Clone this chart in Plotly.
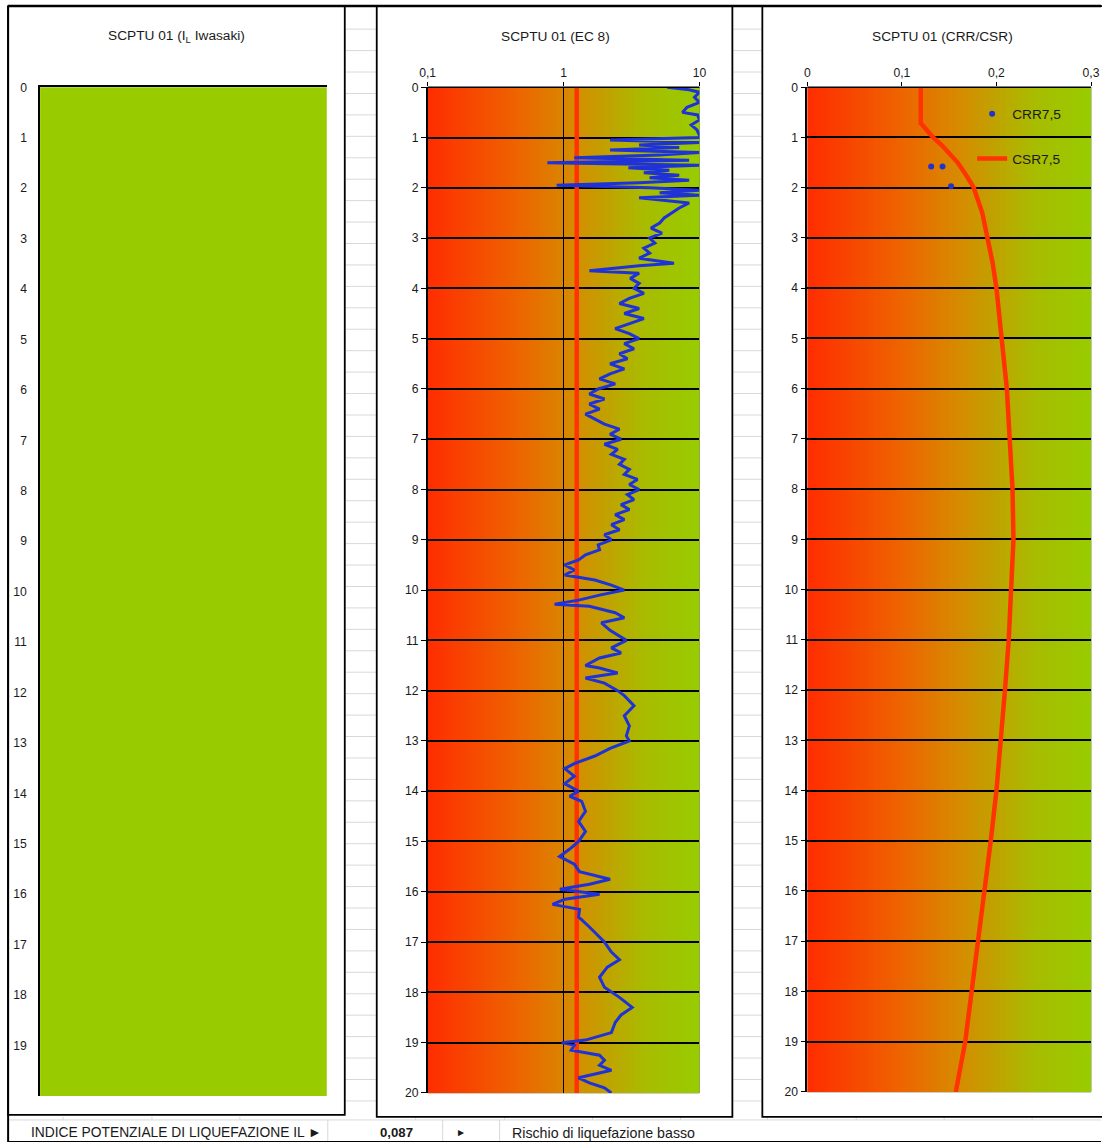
import plotly.graph_objects as go

# Observed capture: the page (with its 8px body margin) is captured on a
# 1118x1158 area and reduced to 1102x1142, so positions are given in window
# pixels of the final picture and converted here.
WIN_W, WIN_H = 1102, 1142
MARGIN = 8
SX = WIN_W / (WIN_W + 2 * MARGIN)
SY = WIN_H / (WIN_H + 2 * MARGIN)
FW = WIN_W + MARGIN
FH = WIN_H + MARGIN


def px(x):
    return (x / SX - MARGIN) / FW


def py(y):
    return 1 - (y / SY - MARGIN) / FH


def fs_(s):
    return round(s / SX, 2)


# ---------------- data ----------------
depth_ticks_p1 = list(range(0, 20))
depth_ticks = list(range(0, 21))

fs_depth = [0.00, 0.05, 0.10, 0.20, 0.30, 0.40, 0.50, 0.55, 0.65, 0.75, 0.85, 0.95,
            1.00, 1.05, 1.10, 1.15, 1.20, 1.25, 1.30, 1.35, 1.40, 1.45, 1.50, 1.55,
            1.60, 1.65, 1.70, 1.75, 1.80, 1.85, 1.90, 1.95, 2.00, 2.05, 2.10, 2.15,
            2.20, 2.30, 2.40, 2.50, 2.60, 2.70, 2.80, 2.90, 3.00, 3.10, 3.20, 3.30,
            3.40, 3.50, 3.55, 3.65, 3.70, 3.80, 3.90, 4.00, 4.10, 4.20, 4.30, 4.40,
            4.50, 4.60, 4.70, 4.80, 4.90, 5.00, 5.10, 5.20, 5.30, 5.40, 5.50, 5.60,
            5.70, 5.80, 5.90, 6.00, 6.10, 6.20, 6.30, 6.40, 6.50, 6.60, 6.70, 6.80,
            6.90, 7.00, 7.10, 7.20, 7.30, 7.40, 7.50, 7.60, 7.70, 7.80, 7.90, 8.00,
            8.10, 8.20, 8.30, 8.40, 8.50, 8.60, 8.70, 8.80, 8.90, 9.00, 9.10, 9.20,
            9.30, 9.40, 9.50, 9.60, 9.70, 9.80, 9.90, 10.00, 10.10, 10.20, 10.28, 10.32,
            10.45, 10.55, 10.65, 10.80, 11.00, 11.15, 11.25, 11.35, 11.50, 11.55, 11.65, 11.75,
            11.85, 12.00, 12.10, 12.30, 12.50, 12.70, 12.90, 13.00, 13.15, 13.30, 13.45, 13.55,
            13.70, 13.85, 14.00, 14.10, 14.20, 14.40, 14.60, 14.80, 15.00, 15.15, 15.30, 15.45,
            15.60, 15.75, 15.85, 15.95, 16.05, 16.15, 16.25, 16.35, 16.50, 16.70, 16.90, 17.00,
            17.20, 17.35, 17.50, 17.70, 17.90, 18.10, 18.30, 18.45, 18.60, 18.80, 18.95, 19.00,
            19.05, 19.15, 19.25, 19.35, 19.45, 19.55, 19.70, 19.80, 19.90, 20.00]
fs_values = [5.8, 8.4, 10.0, 9.2, 10.0, 8.1, 7.5, 9.7, 10.0, 8.7, 9.6, 10.0,
             10.0, 2.2, 10.0, 3.6, 7.1, 2.2, 10.0, 5.1, 1.2, 8.4, 0.76, 10.0,
             3.0, 6.0, 3.9, 7.1, 4.3, 8.4, 3.6, 0.89, 4.3, 10.0, 5.1, 10.0,
             3.6, 8.4, 7.1, 6.2, 5.5, 5.1, 4.4, 5.3, 4.3, 4.7, 3.9, 4.3,
             3.6, 6.5, 3.6, 1.55, 3.6, 3.1, 3.6, 3.3, 3.9, 3.05, 2.58, 3.6,
             2.8, 3.9, 3.05, 2.4, 3.05, 3.6, 2.8, 3.3, 2.58, 2.95, 2.2, 2.8,
             2.2, 1.84, 2.4, 1.8, 1.55, 2.0, 1.55, 1.84, 1.45, 1.7, 2.0, 2.58,
             2.2, 2.65, 2.0, 2.5, 2.25, 2.8, 2.58, 3.05, 2.8, 3.5, 3.05, 3.6,
             2.95, 3.3, 2.65, 3.05, 2.4, 2.8, 2.25, 2.58, 2.0, 2.25, 1.8, 1.84,
             1.45, 1.29, 1.02, 1.2, 1.02, 1.7, 2.25, 2.8, 1.84, 1.29, 0.86, 1.55,
             2.4, 2.8, 1.9, 2.2, 2.9, 2.25, 2.65, 1.84, 1.45, 1.84, 2.5, 1.45,
             2.0, 2.5, 2.8, 3.3, 2.8, 3.05, 2.9, 3.05, 2.2, 1.7, 1.2, 1.02,
             1.2, 1.02, 1.29, 1.11, 1.36, 1.45, 1.29, 1.45, 1.29, 1.11, 0.935, 1.2,
             1.31, 2.2, 1.55, 0.94, 1.84, 1.02, 0.83, 1.31, 1.29, 1.55, 1.84, 2.0,
             2.25, 2.58, 2.1, 1.84, 2.0, 2.58, 3.2, 2.65, 2.4, 2.25, 1.45, 0.97,
             1.2, 1.14, 1.84, 2.0, 1.84, 2.25, 1.29, 1.55, 2.0, 2.25]

fs_threshold_depth = [0, 20]
fs_threshold = [1.25, 1.25]

csr_depth = [0, 0.72, 0.8, 0.9, 1.0, 1.15, 1.3, 1.5, 1.75, 2.0, 2.5, 3, 3.5, 4, 5, 6, 7,
             8, 9, 10, 11, 12, 13, 14, 15, 16, 17, 18, 19, 20]
csr_values = [0.120, 0.120, 0.124, 0.128, 0.133, 0.142, 0.150, 0.159, 0.168, 0.176,
              0.185, 0.191, 0.196, 0.200, 0.206, 0.211, 0.214, 0.217, 0.218, 0.216,
              0.213, 0.209, 0.205, 0.200, 0.194, 0.187, 0.181, 0.174, 0.167, 0.157]

crr_depth = [1.58, 1.58, 1.97]
crr_values = [0.131, 0.143, 0.152]

p2_xtickvals = [0.1, 1, 10]
p2_xticktext = ["0,1", "1", "10"]
p3_xtickvals = [0, 0.1, 0.2, 0.3]
p3_xticktext = ["0", "0,1", "0,2", "0,3"]

titles = ["SCPTU 01 (I<sub>L</sub> Iwasaki)", "SCPTU 01 (EC 8)", "SCPTU 01 (CRR/CSR)"]
il_label = "INDICE POTENZIALE DI LIQUEFAZIONE IL \u25BA"
il_value = "0,087"
il_arrow = "\u25BA"
il_risk = "Rischio di liquefazione basso"

# ---------------- styles ----------------
FONT = "Liberation Sans, Arial, sans-serif"
TXT = "#1a1a1a"
RED = "#FF3300"
BLUE = "#1E32D8"
GREEN = "#99CC00"
SHEET = "#D5D9DF"

grad_stops = [(0.0, (255, 45, 0)), (0.33, (238, 100, 0)), (0.55, (212, 142, 0)),
              (0.8, (168, 188, 0)), (1.0, (152, 204, 0))]


def grad_color(t):
    for (t0, c0), (t1, c1) in zip(grad_stops[:-1], grad_stops[1:]):
        if t <= t1:
            f = (t - t0) / (t1 - t0)
            return "rgb(%d,%d,%d)" % tuple(round(a + (b - a) * f) for a, b in zip(c0, c1))
    return "rgb(%d,%d,%d)" % grad_stops[-1][1]


fig = go.Figure()

# panel 1 (empty data, green background)
fig.add_trace(go.Scatter(x=[None], y=[None], xaxis="x", yaxis="y", showlegend=False))

# panel 2
fig.add_trace(go.Scatter(x=fs_threshold, y=fs_threshold_depth, xaxis="x2", yaxis="y2",
                         mode="lines", line=dict(color=RED, width=4.5), showlegend=False))
fig.add_trace(go.Scatter(x=fs_values, y=fs_depth, xaxis="x2", yaxis="y2",
                         mode="lines", line=dict(color=BLUE, width=3), showlegend=False))

# panel 3
fig.add_trace(go.Scatter(x=crr_values, y=crr_depth, xaxis="x3", yaxis="y3",
                         mode="markers", marker=dict(color="#2233CC", size=6),
                         name="CRR7,5", legendgroup="a"))
fig.add_trace(go.Scatter(x=csr_values, y=csr_depth, xaxis="x3", yaxis="y3",
                         mode="lines", line=dict(color=RED, width=4.5),
                         name="CSR7,5", legendgroup="b"))

tickfont = dict(family=FONT, size=fs_(12), color=TXT)

common_y = dict(range=[20, 0], showgrid=False, zeroline=False, showline=True,
                linecolor="black", linewidth=1.5, tickfont=tickfont, tickmode="array")

fig.update_layout(
    width=FW, height=FH, margin=dict(l=0, r=0, t=0, b=0),
    paper_bgcolor="white", plot_bgcolor="rgba(0,0,0,0)",
    separators=", ",
    showlegend=True,
    legend=dict(x=px(973), y=py(99), xanchor="left", yanchor="top",
                bgcolor="rgba(0,0,0,0)", font=dict(family=FONT, size=fs_(13.5), color=TXT),
                tracegroupgap=24, itemwidth=30),
    xaxis=dict(domain=[px(40), px(327)], anchor="y", range=[0, 1], side="top",
               showline=True, linecolor="black", linewidth=1.5, showgrid=False,
               zeroline=False, showticklabels=False, ticks=""),
    yaxis=dict(domain=[py(1095), py(88)], anchor="x", tickvals=depth_ticks_p1,
               ticks="", ticklabelstandoff=9, **common_y),
    xaxis2=dict(domain=[px(428), px(700)], anchor="y2", type="log",
                range=[-1, 1], side="top", tickmode="array",
                tickvals=p2_xtickvals, ticktext=p2_xticktext, ticks="outside",
                ticklen=4, tickcolor="black", showline=False, showgrid=False,
                zeroline=False, tickfont=tickfont,
                minor=dict(tickvals=[1], showgrid=True, gridcolor="black",
                           gridwidth=1.2, ticks="")),
    yaxis2=dict(domain=[py(1092), py(88)], anchor="x2", tickvals=depth_ticks,
                ticks="outside", ticklen=5, tickcolor="black",
                minor=dict(tickvals=list(range(1, 20)), showgrid=True,
                           gridcolor="black", gridwidth=1.5, ticks=""),
                **common_y),
    xaxis3=dict(domain=[px(808), px(1092)], anchor="y3", range=[0, 0.3],
                side="top", tickmode="array", tickvals=p3_xtickvals,
                ticktext=p3_xticktext, ticks="outside", ticklen=4,
                tickcolor="black", showline=False, showgrid=False,
                zeroline=False, tickfont=tickfont),
    yaxis3=dict(domain=[py(1091), py(88)], anchor="x3", tickvals=depth_ticks,
                ticks="outside", ticklen=5, tickcolor="black",
                minor=dict(tickvals=list(range(1, 20)), showgrid=True,
                           gridcolor="black", gridwidth=1.5, ticks=""),
                **common_y),
)

shapes = []

# top/right/bottom outline lines for panels 2 and 3 (plot area borders)
for xr, yr in (("x2 domain", "y2 domain"), ("x3 domain", "y3 domain")):
    shapes.append(dict(type="line", xref=xr, yref=yr, x0=0, x1=1, y0=1, y1=1,
                       line=dict(color="black", width=1.5), layer="above"))
    shapes.append(dict(type="line", xref=xr, yref=yr, x0=1, x1=1, y0=0, y1=1,
                       line=dict(color="#7f8f60", width=1), layer="below"))
    shapes.append(dict(type="line", xref=xr, yref=yr, x0=0, x1=1, y0=0, y1=0,
                       line=dict(color="#7f8f60", width=1), layer="below"))

# green background for panel 1
shapes.append(dict(type="rect", xref="x domain", yref="y domain", x0=0, x1=1, y0=0, y1=1,
                   fillcolor=GREEN, line=dict(width=0), layer="below"))

# gradient backgrounds for panels 2 and 3
N = 90
for xr, yr in (("x2 domain", "y2 domain"), ("x3 domain", "y3 domain")):
    for i in range(N):
        shapes.append(dict(type="rect", xref=xr, yref=yr, x0=i / N,
                           x1=min(1, (i + 1.6) / N), y0=0, y1=1,
                           fillcolor=grad_color((i + 0.5) / N), line=dict(width=0),
                           layer="below"))

# spreadsheet gridlines in the gaps between chart boxes
row_lines = [30 + 21.4 * k for k in range(51)]
for gx0, gx1 in ((346, 376), (734, 762)):
    for ry in row_lines:
        shapes.append(dict(type="line", xref="paper", yref="paper", x0=px(gx0), x1=px(gx1),
                           y0=py(ry), y1=py(ry), line=dict(color=SHEET, width=1),
                           layer="below"))

# strip below boxes
for cx in (63, 152, 240, 416, 505, 593, 681, 768, 857, 945, 1033):
    shapes.append(dict(type="line", xref="paper", yref="paper", x0=px(cx), x1=px(cx),
                       y0=py(1116), y1=py(1119), line=dict(color=SHEET, width=1),
                       layer="below"))
shapes.append(dict(type="line", xref="paper", yref="paper", x0=px(8), x1=1,
                   y0=py(1119), y1=py(1119), line=dict(color=SHEET, width=1), layer="below"))
for cx in (328, 443, 500):
    shapes.append(dict(type="line", xref="paper", yref="paper", x0=px(cx), x1=px(cx),
                       y0=py(1142), y1=py(1119), line=dict(color=SHEET, width=1),
                       layer="below"))
shapes.append(dict(type="line", xref="paper", yref="paper", x0=px(8), x1=1,
                   y0=py(1141), y1=py(1141), line=dict(color="black", width=2), layer="above"))
shapes.append(dict(type="line", xref="paper", yref="paper", x0=px(8), x1=px(8),
                   y0=py(1142), y1=py(7), line=dict(color="black", width=2), layer="above"))

# chart boxes
shapes.append(dict(type="line", xref="paper", yref="paper", x0=px(8), x1=1,
                   y0=py(7), y1=py(7), line=dict(color="black", width=2.5), layer="above"))
for bx0, bx1, by1 in ((8, 345, 1114), (377, 733, 1116), (763, 1110, 1116)):
    shapes.append(dict(type="rect", xref="paper", yref="paper", x0=px(bx0), x1=px(bx1),
                       y0=py(by1), y1=py(7), line=dict(color="black", width=1.8),
                       fillcolor="rgba(0,0,0,0)", layer="above"))

fig.update_layout(shapes=shapes)

ann = []
for t, cx in zip(titles, (177, 556, 943)):
    ann.append(dict(text=t, x=px(cx), y=py(37), xref="paper", yref="paper",
                    showarrow=False, font=dict(family=FONT, size=fs_(13.5), color=TXT),
                    xanchor="center", yanchor="middle"))
BY = 1132
ann.append(dict(text=il_label, x=px(324), y=py(BY), xref="paper", yref="paper",
                showarrow=False, font=dict(family=FONT, size=fs_(13.6), color=TXT),
                xanchor="right", yanchor="middle"))
ann.append(dict(text="<b>" + il_value + "</b>", x=px(397), y=py(BY), xref="paper",
                yref="paper", showarrow=False, font=dict(family=FONT, size=fs_(13), color=TXT),
                xanchor="center", yanchor="middle"))
ann.append(dict(text=il_arrow, x=px(461), y=py(BY), xref="paper", yref="paper",
                showarrow=False, font=dict(family=FONT, size=fs_(10), color=TXT),
                xanchor="center", yanchor="middle"))
ann.append(dict(text=il_risk, x=px(510), y=py(BY), xref="paper", yref="paper",
                showarrow=False, font=dict(family=FONT, size=fs_(14), color=TXT),
                xanchor="left", yanchor="middle"))
fig.update_layout(annotations=ann)

fig.write_html("out.html")
